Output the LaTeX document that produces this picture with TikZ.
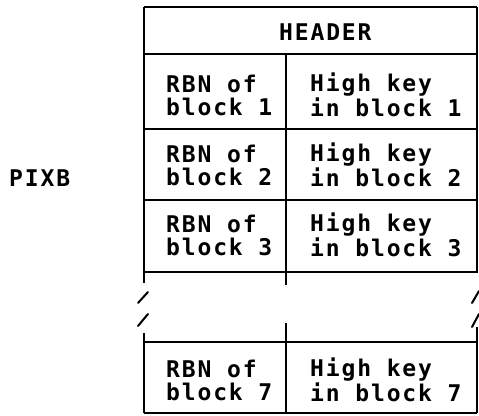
\documentclass[tikz,border=0pt]{standalone}
\usepackage{fontspec}
\newfontfamily\ibmfont[LetterSpace=8]{DejaVu Sans Mono Bold}
\begin{document}
\begin{tikzpicture}[x=1pt,y=-1pt,
  rule/.style={line width=1.8pt,black},
  edge/.style={line width=2.3pt,black},
  slash/.style={line width=2pt,black,line cap=round},
  celltext/.style={font=\ibmfont\fontsize{23}{23}\selectfont,inner sep=0pt,align=left,anchor=west},
  title/.style={font=\ibmfont\fontsize{23}{23}\selectfont,inner sep=0pt,anchor=base west}]
\useasboundingbox (0,0) rectangle (479,415);
% upper part of the table
\draw[edge] (144,7) -- (144,283);
\draw[rule] (477,7) -- (477,273);
\draw[rule] (286,54) -- (286,285);
\draw[rule] (144,7) -- (477,7);
\draw[rule] (144,54) -- (477,54);
\draw[rule] (144,129) -- (477,129);
\draw[rule] (144,200) -- (477,200);
\draw[rule] (144,272) -- (477,272);
% break marks
\draw[slash] (138,303) -- (148,292);
\draw[slash] (138,326) -- (148,314);
\draw[slash] (472,303) -- (479,291);
\draw[slash] (472,327) -- (479,314);
% lower part of the table
\draw[edge] (144,333) -- (144,413);
\draw[rule] (286,323) -- (286,413);
\draw[rule] (477,327) -- (477,413);
\draw[rule] (144,342) -- (477,342);
\draw[rule] (144,413) -- (477,413);
% texts
\node[title] (pixb) at (9,186) {PIXB};
\node[title] (header) at (279,40) {HEADER};
\node[celltext] (rbn1) at (166,95) {RBN of\\block 1};
\node[celltext] (key1) at (310,95) {High key\\in block 1};
\node[celltext] (rbn2) at (166,165) {RBN of\\block 2};
\node[celltext] (key2) at (310,165) {High key\\in block 2};
\node[celltext] (rbn3) at (166,235) {RBN of\\block 3};
\node[celltext] (key3) at (310,235) {High key\\in block 3};
\node[celltext] (rbn7) at (166,380) {RBN of\\block 7};
\node[celltext] (key7) at (310,380) {High key\\in block 7};
\end{tikzpicture}
\end{document}
